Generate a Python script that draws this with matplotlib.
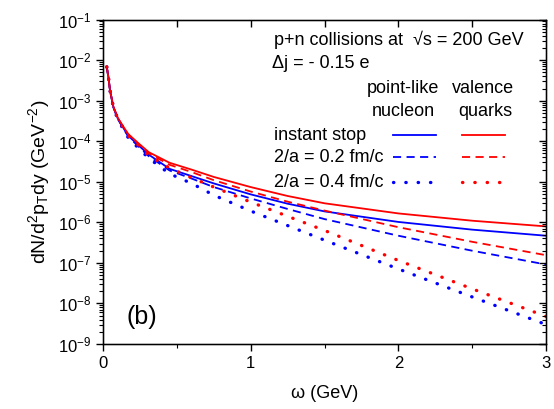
import numpy as np
import matplotlib
matplotlib.use("Agg")
import matplotlib.pyplot as plt
from matplotlib.ticker import LogLocator, MultipleLocator, NullFormatter

plt.rcParams['font.family'] = ['Liberation Sans', 'DejaVu Sans']
plt.rcParams['mathtext.fontset'] = 'custom'
plt.rcParams['mathtext.rm'] = 'Liberation Sans'
plt.rcParams['mathtext.it'] = 'Liberation Sans'
plt.rcParams['mathtext.default'] = 'regular'

# omega (GeV)
omega = [0.025, 0.036, 0.047, 0.07, 0.10, 0.127, 0.17, 0.24, 0.31, 0.45,
         0.6, 0.75, 1.0, 1.25, 1.5, 2.0, 2.5, 3.0]

# log10 of dN/d2pT dy
stop_nucl = [-2.165, -2.41, -2.74, -3.16, -3.44, -3.61, -3.86, -4.10, -4.33, -4.68,
             -4.86, -5.04, -5.31, -5.54, -5.73, -5.99, -6.18, -6.33]
stop_quark = [-2.165, -2.41, -2.74, -3.15, -3.42, -3.58, -3.82, -4.05, -4.27, -4.53,
              -4.70, -4.88, -5.13, -5.35, -5.53, -5.78, -5.96, -6.10]
a02_nucl = [-2.165, -2.41, -2.74, -3.16, -3.45, -3.62, -3.88, -4.13, -4.37, -4.72,
            -4.92, -5.13, -5.41, -5.67, -5.92, -6.33, -6.70, -7.04]
a02_quark = [-2.165, -2.41, -2.74, -3.15, -3.43, -3.59, -3.83, -4.07, -4.30, -4.58,
             -4.76, -4.96, -5.24, -5.49, -5.71, -6.12, -6.48, -6.81]
a04_nucl = [-2.165, -2.41, -2.75, -3.17, -3.46, -3.64, -3.91, -4.17, -4.42, -4.80,
            -5.04, -5.33, -5.72, -6.08, -6.44, -7.15, -7.84, -8.52]
a04_quark = [-2.165, -2.41, -2.74, -3.16, -3.44, -3.61, -3.86, -4.10, -4.35, -4.66,
             -4.90, -5.13, -5.50, -5.85, -6.20, -6.94, -7.64, -8.32]

BLUE = '#0000ff'
RED = '#ff0000'
LW = 1.3
dash = dict(dashes=(4.5, 3))
dots = dict(dashes=(0.1, 3.6), dash_capstyle='round', lw=2.4)

fig = plt.figure(figsize=(5.54, 4.09), dpi=100)
ax = fig.add_axes([0.186, 0.159, 0.7996, 0.793])

x = np.array(omega)
ax.plot(x, 10 ** np.array(stop_nucl), color=BLUE, lw=LW)
ax.plot(x, 10 ** np.array(stop_quark), color=RED, lw=LW)
ax.plot(x, 10 ** np.array(a02_nucl), color=BLUE, lw=LW, **dash)
ax.plot(x, 10 ** np.array(a02_quark), color=RED, lw=LW, **dash)
ax.plot(x, 10 ** np.array(a04_nucl), color=BLUE, **dots)
ax.plot(x, 10 ** np.array(a04_quark), color=RED, **dots)

ax.set_yscale('log')
ax.set_xlim(0, 3)
ax.set_ylim(1e-9, 1e-1)
ax.xaxis.set_major_locator(MultipleLocator(1))
ax.xaxis.set_minor_locator(MultipleLocator(0.5))
ax.yaxis.set_major_locator(LogLocator(base=10, numticks=20))
ax.yaxis.set_minor_locator(LogLocator(base=10, subs=np.arange(2, 10), numticks=20))
ax.yaxis.set_minor_formatter(NullFormatter())
ax.tick_params(which='both', direction='out', labelsize=12, top=False, right=False)
ax.tick_params(which='major', length=5, width=1)
ax.tick_params(which='minor', length=3, width=0.8)
for s in ax.spines.values():
    s.set_linewidth(1.0)

# inward ticks on top and right
axr = ax.twinx()
axr.set_yscale('log')
axr.set_ylim(ax.get_ylim())
axr.yaxis.set_major_locator(LogLocator(base=10, numticks=20))
axr.yaxis.set_minor_locator(LogLocator(base=10, subs=np.arange(2, 10), numticks=20))
axr.tick_params(which='both', direction='in', labelright=False)
axr.tick_params(which='major', length=5, width=1)
axr.tick_params(which='minor', length=3, width=0.8)
axt = ax.twiny()
axt.set_xlim(ax.get_xlim())
axt.xaxis.set_major_locator(MultipleLocator(0.5))
axt.tick_params(which='both', direction='in', labeltop=False, length=5, width=1)

ax.set_xlabel('\u03c9 (GeV)', fontsize=13, labelpad=10)
ax.set_ylabel(r'dN/d$^2$p$_T$dy (GeV$^{-2}$)', fontsize=14, labelpad=4)

tr = ax.transAxes
fs = 13
ax.text(0.386, 0.937, 'p+n collisions at  \u221as = 200 GeV', transform=tr, fontsize=fs, va='center')
ax.text(0.382, 0.866, '\u0394j = - 0.15 e', transform=tr, fontsize=fs, va='center')
ax.text(0.677, 0.789, 'point-like', transform=tr, fontsize=fs, ha='center', va='center')
ax.text(0.677, 0.718, 'nucleon', transform=tr, fontsize=fs, ha='center', va='center')
ax.text(0.858, 0.789, 'valence', transform=tr, fontsize=fs, ha='center', va='center')
ax.text(0.862, 0.718, 'quarks', transform=tr, fontsize=fs, ha='center', va='center')

rows = ['instant stop', '2/a = 0.2 fm/c', '2/a = 0.4 fm/c']
row_y = [0.644, 0.576, 0.499]
styles = [dict(lw=LW), dict(lw=LW, **dash), dots]
for label, yy, st in zip(rows, row_y, styles):
    ax.text(0.386, yy, label, transform=tr, fontsize=fs, va='center')
    ax.plot([0.655, 0.752], [yy, yy], transform=tr, color=BLUE, **st)
    ax.plot([0.810, 0.907], [yy, yy], transform=tr, color=RED, **st)

ax.text(0.088, 0.083, '(b)', transform=tr, fontsize=18, ha='center', va='center')

fig.savefig('out.png', dpi=100)
